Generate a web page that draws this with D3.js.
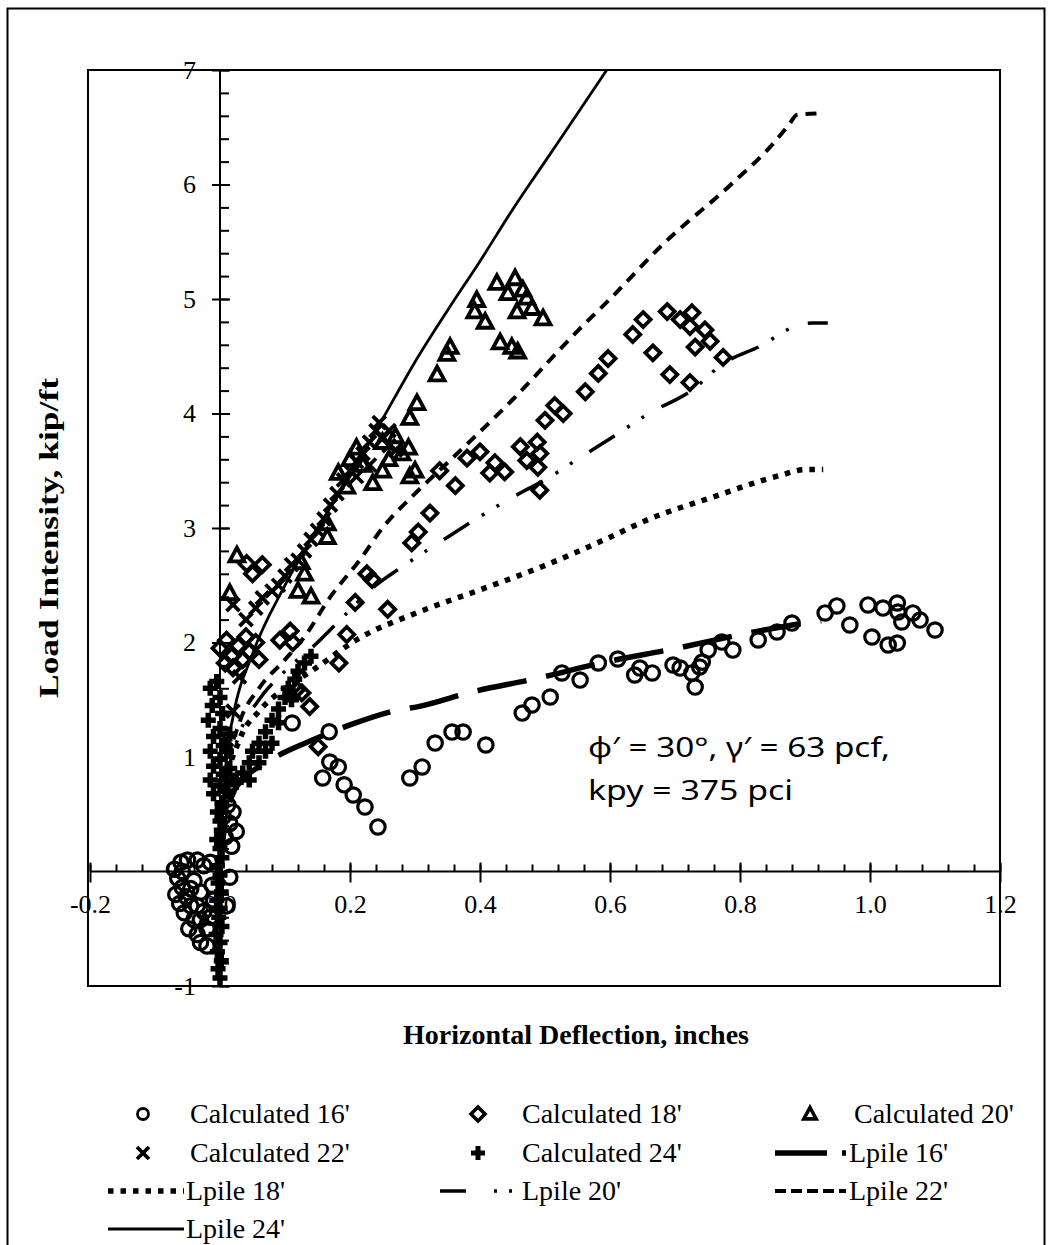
<!DOCTYPE html>
<html><head><meta charset="utf-8">
<script src="https://cdn.jsdelivr.net/npm/d3@7"></script>
<style>
html,body{margin:0;padding:0;background:#fff;}
svg{display:block;}
</style></head>
<body>
<svg id="chart" width="1052" height="1245"></svg>
<script>
// ---------- DATA ----------
const xTicksMajor = [-0.2, 0, 0.2, 0.4, 0.6, 0.8, 1.0, 1.2];
const yTicksMajor = [7, 6, 5, 4, 3, 2, 1, -1];
const xTitle = "Horizontal Deflection, inches";
const yTitle = "Load Intensity, kip/ft";
const noteLines = ["\u03D5\u2032 = 30\u00B0, \u03B3\u2032 = 63 pcf,", "kpy = 375 pci"];

const calc16 = [
 [-0.07,0.02],[-0.065,-0.06],[-0.06,0.08],[-0.058,-0.14],[-0.05,0.1],[-0.052,-0.22],[-0.045,-0.3],[-0.055,-0.36],
 [-0.04,-0.42],[-0.048,-0.5],[-0.035,-0.55],[-0.03,-0.62],[-0.04,-0.08],[-0.03,-0.18],[-0.025,-0.35],[-0.02,-0.5],
 [-0.015,0.08],[-0.01,-0.25],[-0.025,0.05],[-0.068,-0.2],[-0.062,-0.28],[-0.058,0.0],[-0.035,-0.3],[-0.045,-0.15],
 [-0.03,-0.42],[-0.02,-0.65],[-0.015,-0.4],[-0.035,0.1],[-0.012,-0.12],
 [0.008,0.3],[0.015,0.42],[0.02,0.52],[0.012,0.58],[0.025,0.35],
 [0.018,0.22],[0.005,0.48],[0.01,-0.3],[0.015,-0.05],
 [0.111,1.297],[0.168,1.22],[0.169,0.956],[0.182,0.913],[0.158,0.817],[0.191,0.757],[0.205,0.668],[0.223,0.563],
 [0.243,0.389],[0.292,0.817],[0.311,0.913],[0.331,1.122],[0.357,1.218],[0.374,1.218],[0.409,1.105],
 [0.465,1.384],[0.48,1.454],[0.508,1.524],[0.526,1.734],[0.554,1.672],[0.582,1.821],[0.612,1.856],[0.638,1.716],
 [0.646,1.777],[0.665,1.734],[0.697,1.803],[0.708,1.777],[0.726,1.734],[0.731,1.611],[0.738,1.786],[0.742,1.829],
 [0.751,1.934],[0.772,2.004],[0.789,1.934],[0.828,2.022],[0.857,2.092],[0.88,2.17],[0.931,2.258],[0.949,2.319],
 [0.969,2.153],[0.997,2.328],[1.003,2.048],[1.02,2.301],[1.028,1.978],[1.042,1.995],[1.042,2.345],[1.043,2.266],
 [1.049,2.179],[1.066,2.258],[1.077,2.196],[1.1,2.109]
];
const calc18 = [
 [0.0,1.95],[0.01,2.02],[0.018,1.88],[0.028,1.97],[0.035,1.85],[0.045,1.92],[0.02,1.78],[0.055,2.0],[0.06,1.85],
 [0.008,1.82],[0.04,2.05],[0.041,2.69],[0.065,2.68],[0.05,2.6],[0.092,2.02],[0.112,2.0],[0.118,1.59],[0.126,1.56],
 [0.138,1.44],[0.151,1.09],[0.108,2.1],[0.183,1.82],[0.195,2.07],[0.208,2.35],[0.226,2.6],[0.234,2.55],[0.258,2.29],
 [0.295,2.87],[0.305,2.965],[0.323,3.13],[0.338,3.5],[0.362,3.37],[0.38,3.61],[0.4,3.665],[0.423,3.57],[0.438,3.49],
 [0.415,3.48],[0.462,3.71],[0.472,3.59],[0.488,3.75],[0.492,3.65],[0.489,3.53],[0.492,3.33],[0.5,3.94],[0.515,4.07],
 [0.528,4.0],[0.562,4.19],[0.582,4.35],[0.597,4.48],[0.635,4.69],[0.651,4.82],[0.666,4.53],[0.692,4.34],[0.723,4.27],
 [0.688,4.89],[0.708,4.82],[0.726,4.88],[0.723,4.76],[0.746,4.73],[0.754,4.63],[0.731,4.58],[0.774,4.49]
];
const calc20 = [
 [0.015,2.43],[0.026,2.76],[0.12,2.45],[0.13,2.6],[0.14,2.4],[0.125,2.7],
 [0.165,3.04],[0.165,2.92],[0.182,3.48],[0.195,3.36],[0.235,3.39],[0.292,3.45],[0.292,3.96],[0.303,4.09],
 [0.2,3.6],[0.21,3.7],[0.22,3.55],[0.25,3.75],[0.26,3.6],[0.27,3.8],[0.28,3.65],[0.25,3.5],[0.29,3.7],[0.3,3.5],
 [0.334,4.34],[0.349,4.52],[0.354,4.58],[0.392,4.89],[0.395,4.99],[0.408,4.8],[0.426,5.14],[0.431,4.62],[0.443,5.05],
 [0.449,4.58],[0.454,5.18],[0.457,4.89],[0.458,4.54],[0.466,5.08],[0.472,5.01],[0.48,4.92],[0.497,4.83]
];
const calc22 = [
 [0.01,1.15],[0.02,1.4],[0.03,1.7],[0.02,2.33],[0.04,2.2],[0.055,2.3],[0.065,2.39],[0.08,2.45],[0.09,2.5],[0.1,2.58],
 [0.11,2.68],[0.12,2.72],[0.13,2.8],[0.14,2.9],[0.15,2.98],[0.16,3.08],[0.17,3.2],[0.18,3.3],[0.19,3.42],[0.2,3.5],
 [0.21,3.58],[0.22,3.65],[0.23,3.75],[0.24,3.85],[0.245,3.92],[0.25,3.78],[0.26,3.72],[0.27,3.68],[0.23,3.55],
 [0.21,3.45],[0.26,3.85]
];
const calc24 = [
 [0.0,-0.93],[-0.003,-0.85],[0.002,-0.78],[-0.004,-0.7],[0.0,-0.62],[-0.006,-0.55],[0.003,-0.48],[-0.002,-0.4],
 [0.0,-0.32],[-0.005,-0.25],[0.002,-0.18],[-0.003,-0.1],[0.0,-0.03],[-0.004,0.05],[0.003,0.12],[0.0,0.2],
 [-0.005,0.28],[0.002,0.36],[0.0,0.44],[-0.004,0.52],[0.003,0.6],[-0.01,0.68],[0.0,0.75],[-0.015,0.8],[0.005,0.85],
 [-0.01,0.92],[0.0,0.98],[-0.015,1.05],[0.005,1.1],[-0.01,1.18],[0.0,1.25],[-0.018,1.32],[0.004,1.38],[-0.012,1.45],
 [0.0,1.52],[-0.015,1.6],[-0.005,1.66],[0.012,0.7],[0.015,0.9],[0.01,1.05],[0.02,0.8],[0.015,1.2],
 [0.025,0.78],[0.035,0.86],[0.045,0.95],[0.05,1.05],[0.06,1.12],[0.07,1.22],[0.08,1.32],[0.09,1.42],[0.1,1.52],
 [0.105,1.6],[0.115,1.68],[0.12,1.75],[0.13,1.82],[0.14,1.88],[0.06,0.95],[0.07,1.05],[0.08,1.12],[0.045,0.8],
 [0.09,1.3],[0.11,1.5]
];
const lpile16 = [[0,0],[0.005,0.3],[0.01,0.5],[0.02,0.68],[0.04,0.83],[0.07,0.95],[0.097,1.035],[0.143,1.15],[0.2,1.28],
 [0.274,1.41],[0.305,1.44],[0.382,1.56],[0.49,1.69],[0.585,1.82],[0.703,1.95],[0.81,2.08],[0.9,2.17],[0.925,2.19]];
const lpile18 = [[0,0],[0.005,0.45],[0.01,0.75],[0.03,1.15],[0.06,1.4],[0.1,1.6],[0.143,1.76],[0.215,2.04],[0.303,2.26],
 [0.405,2.47],[0.503,2.68],[0.6,2.92],[0.657,3.07],[0.758,3.27],[0.862,3.46],[0.9,3.51],[0.928,3.51]];
const lpile20 = [[0,0],[0.005,0.45],[0.01,0.75],[0.03,1.2],[0.06,1.5],[0.1,1.75],[0.15,2.0],[0.18,2.17],[0.24,2.5],
 [0.28,2.66],[0.35,2.92],[0.4,3.1],[0.46,3.3],[0.5,3.42],[0.55,3.6],[0.6,3.78],[0.66,4.0],[0.73,4.22],[0.77,4.42],
 [0.835,4.6],[0.88,4.75],[0.91,4.79],[0.935,4.79]];
const lpile22 = [[0,0],[0.005,0.5],[0.01,0.85],[0.03,1.3],[0.06,1.6],[0.1,1.85],[0.13,2.05],[0.17,2.4],[0.215,2.72],
 [0.25,3.0],[0.3,3.3],[0.35,3.57],[0.45,4.12],[0.55,4.72],[0.6,5.0],[0.68,5.47],[0.79,6.02],[0.85,6.35],[0.875,6.52],
 [0.888,6.61],[0.918,6.62]];
const lpile24 = [[0,0],[0.005,0.6],[0.01,1.0],[0.02,1.35],[0.05,1.9],[0.1,2.5],[0.15,3.0],[0.2,3.45],[0.25,3.95],
 [0.3,4.45],[0.35,4.9],[0.4,5.33],[0.45,5.78],[0.5,6.2],[0.55,6.62],[0.595,7.0]];

const legendLabels = ["Calculated 16'","Calculated 18'","Calculated 20'","Calculated 22'","Calculated 24'",
  "Lpile 16'","Lpile 18'","Lpile 20'","Lpile 22'","Lpile 24'"];

// ---------- DRAW ----------
const svg = d3.select("#chart");
const serif = "'Liberation Serif','Times New Roman',serif";
const x = d3.scaleLinear().domain([-0.2, 1.2]).range([90, 1000]);
const y = d3.scaleLinear().domain([-1, 7]).range([986, 70]);

// outer border
svg.append("rect").attr("x",7.5).attr("y",8.5).attr("width",1037).attr("height",1250)
  .attr("fill","none").attr("stroke","#000").attr("stroke-width",2);
// plot frame
svg.append("rect").attr("x",x(-0.2)-2).attr("y",y(7)).attr("width",x(1.2)-x(-0.2)+2).attr("height",y(-1)-y(7))
  .attr("fill","none").attr("stroke","#000").attr("stroke-width",2);

// x axis (through y=0)
const xMinor = d3.range(-0.2, 1.2001, 0.04).map(v => +v.toFixed(2));
const gxTop = svg.append("g").attr("transform",`translate(0,${y(0)})`)
  .call(d3.axisTop(x).tickValues(xMinor).tickSize(7).tickFormat(""));
const gxMajUp = svg.append("g").attr("transform",`translate(0,${y(0)})`)
  .call(d3.axisTop(x).tickValues(xTicksMajor).tickSize(9).tickFormat(""));
const gx = svg.append("g").attr("transform",`translate(0,${y(0)})`)
  .call(d3.axisBottom(x).tickValues(xTicksMajor).tickSize(11).tickPadding(12)
    .tickFormat(d => (d < 0 ? "-" : "") + Math.abs(d).toFixed(1)));
gx.selectAll("text").attr("font-family",serif).attr("font-size",26).attr("fill","#000");
[gxTop,gxMajUp,gx].forEach(g => { g.select(".domain").attr("stroke","#000").attr("stroke-width",2);
  g.selectAll(".tick line").attr("stroke","#000").attr("stroke-width",2); });
gxTop.select(".domain").remove(); gxMajUp.select(".domain").remove();
gx.select(".domain").attr("d",`M${x(-0.2)},0H${x(1.2)}`);

// y axis (through x=0)
const yMinor = d3.range(-1, 7.0001, 0.2).map(v => +v.toFixed(1));
const gyR = svg.append("g").attr("transform",`translate(${x(0)},0)`)
  .call(d3.axisRight(y).tickValues(yMinor).tickSize(9).tickFormat(""));
const gy = svg.append("g").attr("transform",`translate(${x(0)},0)`)
  .call(d3.axisLeft(y).tickValues(yTicksMajor).tickSize(8).tickPadding(16)
    .tickFormat(d => (d < 0 ? "-" : "") + Math.abs(d)));
const gyR2 = svg.append("g").attr("transform",`translate(${x(0)},0)`)
  .call(d3.axisRight(y).tickValues(yTicksMajor.concat([0])).tickSize(10).tickFormat(""));
gy.selectAll("text").attr("font-family",serif).attr("font-size",26).attr("fill","#000");
[gyR,gy,gyR2].forEach(g => { g.select(".domain").attr("stroke","#000").attr("stroke-width",2);
  g.selectAll(".tick line").attr("stroke","#000").attr("stroke-width",2); });
gyR.select(".domain").remove(); gyR2.select(".domain").remove();
gy.select(".domain").attr("d",`M0,${y(7)}V${y(-1)}`);

// axis titles
svg.append("text").attr("x",576).attr("y",1044).attr("text-anchor","middle")
  .attr("font-family",serif).attr("font-weight","bold").attr("font-size",28).text(xTitle);
svg.append("text").attr("transform","translate(58,538) rotate(-90)").attr("text-anchor","middle")
  .attr("font-family",serif).attr("font-weight","bold").attr("font-size",28)
  .attr("textLength",320).attr("lengthAdjust","spacingAndGlyphs").text(yTitle);

// line styles
const lineStyles = {
  l16:{w:5.5, dash:"50,20", cap:"butt"},
  l18:{w:5.5, dash:"5.5,7", cap:"butt"},
  l20:{w:3.5, dash:"30,15,3,14,3,20", cap:"butt"},
  l22:{w:4, dash:"11,8", cap:"butt"},
  l24:{w:2.8, dash:null, cap:"butt"}
};
const lineGen = d3.line().x(d => x(d[0])).y(d => y(d[1])).curve(d3.curveMonotoneX);
const gLines = svg.append("g");
[[lpile16,"l16"],[lpile18,"l18"],[lpile20,"l20"],[lpile22,"l22"],[lpile24,"l24"]].forEach(([data,key]) => {
  const s = lineStyles[key];
  const p = gLines.append("path").datum(data).attr("d",lineGen).attr("fill","none")
    .attr("stroke","#000").attr("stroke-width",s.w).attr("stroke-linecap",s.cap);
  if (s.dash) p.attr("stroke-dasharray",s.dash);
});

// markers
const markerPath = {
  circle: r => `M${r},0A${r},${r} 0 1,1 ${-r},0A${r},${r} 0 1,1 ${r},0Z`,
  diamond: r => `M0,${-r}L${r},0L0,${r}L${-r},0Z`,
  triangle: r => `M0,${-r}L${r*0.95},${r*0.75}L${-r*0.95},${r*0.75}Z`,
  cross: r => `M${-r},${-r}L${r},${r}M${r},${-r}L${-r},${r}`,
  plus: r => `M${-r},0H${r}M0,${-r}V${r}`
};
const markerStyle = {
  circle:{r:7.2, w:3.2}, diamond:{r:7.5, w:3.8}, triangle:{r:7.8, w:3.8}, cross:{r:6.5, w:3.8}, plus:{r:7.5, w:5.5}
};
const gPts = svg.append("g");
[[calc16,"circle"],[calc18,"diamond"],[calc20,"triangle"],[calc22,"cross"],[calc24,"plus"]].forEach(([data,shape]) => {
  const st = markerStyle[shape];
  gPts.append("g").selectAll("path").data(data).join("path")
    .attr("transform", d => `translate(${x(d[0])},${y(d[1])})`)
    .attr("d", markerPath[shape](st.r))
    .attr("fill","none").attr("stroke","#000").attr("stroke-width",st.w).attr("stroke-linejoin","miter");
});

// annotation
const sans = "'Noto Sans','Open Sans',sans-serif";
svg.append("text").attr("x",588).attr("y",757).attr("font-family",sans).attr("font-size",28)
  .attr("textLength",302).attr("lengthAdjust","spacingAndGlyphs").text(noteLines[0]);
svg.append("text").attr("x",588).attr("y",800).attr("font-family",sans).attr("font-size",28)
  .attr("textLength",205).attr("lengthAdjust","spacingAndGlyphs").text(noteLines[1]);

// legend
const rowsY = [1114, 1153, 1191, 1229];
const colMarkX = [143, 478, 810];
const colTextX = [190, 522, 854];
const legendItems = [
  {label:legendLabels[0], type:"marker", shape:"circle", row:0, col:0},
  {label:legendLabels[1], type:"marker", shape:"diamond", row:0, col:1},
  {label:legendLabels[2], type:"marker", shape:"triangle", row:0, col:2},
  {label:legendLabels[3], type:"marker", shape:"cross", row:1, col:0},
  {label:legendLabels[4], type:"marker", shape:"plus", row:1, col:1},
  {label:legendLabels[5], type:"line", key:"l16", row:1, col:2, x0:775, x1:846, tx:849},
  {label:legendLabels[6], type:"line", key:"l18", row:2, col:0, x0:108, x1:184, tx:186},
  {label:legendLabels[7], type:"line", key:"l20", row:2, col:1, x0:440, x1:520, tx:522},
  {label:legendLabels[8], type:"line", key:"l22", row:2, col:2, x0:775, x1:846, tx:849},
  {label:legendLabels[9], type:"line", key:"l24", row:3, col:0, x0:108, x1:184, tx:186}
];
const legendMarker = {circle:{r:5.5,w:2.8}, diamond:{r:7,w:3.6}, triangle:{r:6.5,w:3.6}, cross:{r:6,w:3.8}, plus:{r:7,w:5}};
const gLeg = svg.append("g");
legendItems.forEach(it => {
  const cy = rowsY[it.row];
  let tx;
  if (it.type === "marker") {
    const st = legendMarker[it.shape];
    gLeg.append("path").attr("transform",`translate(${colMarkX[it.col]},${cy})`).attr("d",markerPath[it.shape](st.r))
      .attr("fill","none").attr("stroke","#000").attr("stroke-width",st.w);
    tx = colTextX[it.col];
  } else {
    const s = lineStyles[it.key];
    const dash = it.key === "l16" ? "52,15" : it.key === "l20" ? "26,28,3,12,3,20" : it.key === "l22" ? "11,5" : s.dash;
    const p = gLeg.append("line").attr("x1",it.x0).attr("x2",it.x1).attr("y1",cy).attr("y2",cy)
      .attr("stroke","#000").attr("stroke-width",s.w);
    if (dash) p.attr("stroke-dasharray",dash);
    tx = it.tx;
  }
  gLeg.append("text").attr("x",tx).attr("y",cy+9).attr("font-family",serif).attr("font-size",28).text(it.label);
});
</script>
</body></html>
